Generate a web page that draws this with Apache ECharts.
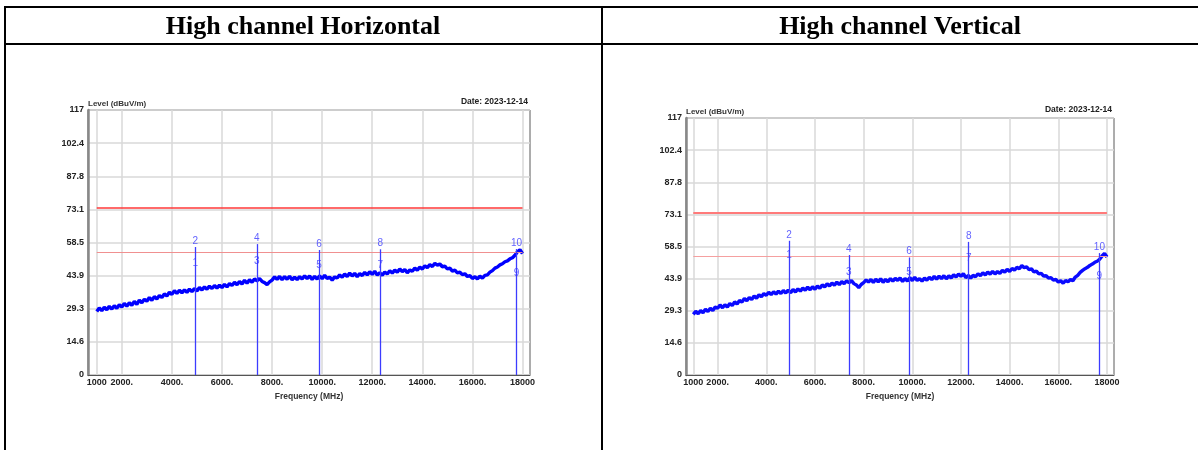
<!DOCTYPE html>
<html><head><meta charset="utf-8">
<script src="https://cdn.jsdelivr.net/npm/echarts@6/dist/echarts.min.js"></script>
<style>html,body{margin:0;padding:0;background:#fff}#c{width:1198px;height:450px}</style>
</head><body><div id="c"></div>
<script>
// ---------- data ----------
const panelTitles = ['High channel Horizontal', 'High channel Vertical'];
const dateText = 'Date: 2023-12-14';
const yAxisName = 'Level (dBuV/m)';
const xAxisName = 'Frequency (MHz)';
const freqStart = 1000;
const freqStep = 100;
const xTickValues = [1000, 2000, 4000, 6000, 8000, 10000, 12000, 14000, 16000, 18000];
const xTickLabels = ['1000', '2000.', '4000.', '6000.', '8000.', '10000.', '12000.', '14000.', '16000.', '18000'];
const yTickLabels = ['0', '14.6', '29.3', '43.9', '58.5', '73.1', '87.8', '102.4', '117'];
const limitPeak = 74;
const limitAvg = 54;

// Horizontal trace, 1000..18000 MHz every 100 MHz
const traceH = [
  28.0, 29.6, 28.4, 29.9, 28.8, 30.3, 29.1, 30.6, 29.5, 31.0,
  30.0, 31.6, 30.4, 31.9, 30.8, 32.5, 31.2, 33.1, 31.9, 33.4,
  32.6, 34.2, 33.0, 34.6, 33.6, 35.1, 34.2, 35.8, 34.9, 36.5,
  35.6, 37.2, 36.0, 37.4, 36.3, 37.6, 36.5, 37.9, 36.8, 38.2,
  37.1, 38.6, 37.5, 38.9, 37.9, 39.2, 38.2, 39.5, 38.4, 39.7,
  38.6, 40.0, 38.9, 40.4, 39.5, 40.9, 39.9, 41.3, 40.2, 41.8,
  40.5, 42.0, 41.0, 42.4, 41.6, 42.6, 41.3, 40.8, 39.9, 41.1,
  41.9, 43.3, 42.2, 43.5, 42.1, 43.4, 42.3, 43.6, 42.0, 43.2,
  42.1, 43.4, 42.4, 43.8, 42.6, 43.7, 42.2, 43.5, 42.4, 43.8,
  42.5, 44.0, 42.6, 43.2, 41.9, 43.3, 42.8, 44.2, 43.2, 44.6,
  43.5, 45.0, 43.7, 44.9, 43.4, 44.8, 43.9, 45.3, 44.2, 45.6,
  44.4, 45.8, 44.1, 45.2, 44.0, 45.5, 44.6, 46.0, 45.0, 46.3,
  45.4, 46.8, 45.6, 46.6, 45.1, 46.4, 45.8, 47.2, 46.3, 47.6,
  46.8, 48.2, 47.4, 48.7, 47.9, 49.3, 48.5, 49.0, 47.8, 48.1,
  46.8, 47.2, 45.9, 46.3, 45.1, 45.4, 44.3, 44.7, 43.5, 43.9,
  42.6, 43.4, 42.4, 43.6, 42.8, 44.0, 44.2, 45.4, 46.1, 47.2,
  47.7, 48.6, 49.1, 50.0, 50.4, 51.3, 51.8, 52.9, 54.4, 55.3,
  53.6
];
// Vertical trace, 1000..18000 MHz every 100 MHz
const traceV = [
  27.6, 29.0, 27.9, 29.3, 28.4, 29.9, 28.9, 30.4, 29.4, 30.9,
  30.4, 31.9, 30.6, 32.0, 30.9, 32.6, 31.6, 33.3, 32.3, 33.9,
  33.2, 34.8, 33.8, 35.3, 34.4, 36.0, 35.0, 36.5, 35.6, 37.1,
  36.3, 37.7, 36.6, 37.9, 36.8, 38.2, 37.1, 38.5, 37.3, 38.7,
  37.4, 38.9, 37.8, 39.2, 38.2, 39.6, 38.6, 40.0, 38.8, 40.2,
  39.0, 40.5, 39.5, 41.0, 40.1, 41.5, 40.5, 41.9, 40.9, 42.3,
  41.1, 42.5, 41.6, 42.9, 42.0, 43.0, 41.6, 41.0, 39.8, 41.2,
  42.0, 43.3, 42.3, 43.5, 42.1, 43.6, 42.4, 43.8, 42.2, 43.5,
  42.4, 43.9, 42.7, 44.0, 43.1, 44.2, 42.6, 43.9, 42.8, 44.3,
  43.0, 44.5, 43.1, 43.9, 42.7, 44.1, 43.2, 44.5, 43.4, 44.9,
  43.6, 45.0, 43.9, 45.2, 43.8, 45.1, 44.2, 45.6, 44.6, 46.0,
  44.9, 46.1, 44.3, 45.3, 44.1, 45.4, 44.7, 46.1, 45.2, 46.5,
  45.5, 46.9, 45.9, 47.2, 46.0, 47.1, 46.3, 47.6, 46.8, 48.1,
  47.1, 48.5, 47.7, 49.0, 48.4, 49.8, 48.9, 49.2, 48.0, 48.3,
  46.9, 47.3, 46.0, 46.3, 45.0, 45.2, 44.1, 44.3, 43.2, 43.5,
  42.3, 42.9, 41.8, 43.0, 42.4, 43.5, 42.9, 44.6, 45.4, 46.7,
  47.6, 48.4, 49.0, 49.9, 50.5, 51.3, 51.8, 52.7, 54.2, 55.4,
  53.7
];

const markerFreqH = [4930, 7390, 9880, 12320, 17760];
const markerPeakH = [56.5, 57.8, 55.2, 55.5, 55.6];
const markerAvgH  = [46.8, 47.7, 45.9, 45.9, 42.4];
const markerFreqV = [4930, 7390, 9870, 12320, 17690];
const markerPeakV = [61.1, 54.6, 53.5, 60.6, 55.5];
const markerAvgV  = [51.8, 44.2, 44.1, 50.5, 42.1];

// ---------- chart ----------
const chart = echarts.init(document.getElementById('c'), null, {renderer: 'canvas'});
const FONT = 'Liberation Sans, Arial, sans-serif';

const panels = [
  {trace: traceH, mf: markerFreqH, mp: markerPeakH, ma: markerAvgH,
   grid: {left: 88, top: 110, width: 442, height: 265}, xmin: 650, xmax: 18300,
   limitColor: '#ff3838', limitWidth: 1.5, avgColor: '#f09090', traceColor: '#0000ff'},
  {trace: traceV, mf: markerFreqV, mp: markerPeakV, ma: markerAvgV,
   grid: {left: 686, top: 118, width: 428, height: 257}, xmin: 700, xmax: 18290,
   limitColor: '#ff7a7a', limitWidth: 2, avgColor: '#f5a0a0', traceColor: '#0a0aff'}
];

const grids = [], xAxes = [], yAxes = [], series = [], graphics = [];

panels.forEach((p, i) => {
  grids.push(Object.assign({show: true, borderColor: '#5a5a5a', borderWidth: 1, backgroundColor: '#fff'}, p.grid));
  xAxes.push({
    type: 'value', gridIndex: i, min: p.xmin, max: p.xmax,
    name: xAxisName, nameLocation: 'middle', nameGap: 13,
    nameTextStyle: {fontFamily: FONT, fontWeight: 'bold', fontSize: 8.5, color: '#333'},
    axisLine: {show: true, lineStyle: {color: '#555', width: 1}},
    axisTick: {show: false, customValues: xTickValues},
    axisLabel: {customValues: xTickValues, margin: 3, fontFamily: FONT, fontWeight: 'bold', fontSize: 9, color: '#222',
      formatter: v => xTickLabels[xTickValues.indexOf(v)] ?? ''},
    splitLine: {show: true, lineStyle: {color: '#d9d9d9', width: 1.5}}
  });
  yAxes.push({
    type: 'value', gridIndex: i, min: 0, max: 117, interval: 14.625,
    name: yAxisName, nameLocation: 'end', nameGap: 2,
    nameTextStyle: {fontFamily: FONT, fontWeight: 'bold', fontSize: 8, color: '#333', align: 'left', verticalAlign: 'bottom', padding: [0, 0, 0, 0]},
    axisLine: {show: true, lineStyle: {color: '#888', width: 2.5}},
    axisTick: {show: false},
    axisLabel: {margin: 4, fontFamily: FONT, fontWeight: 'bold', fontSize: 9, color: '#222',
      formatter: (v) => yTickLabels[Math.round(v / 14.625)]},
    splitLine: {show: true, lineStyle: {color: '#d9d9d9', width: 1.5}}
  });

  // limit lines
  series.push({
    type: 'line', xAxisIndex: i, yAxisIndex: i, data: [], silent: true,
    markLine: {symbol: 'none', silent: true, label: {show: false}, animation: false,
      data: [
        [{coord: [1000, limitPeak], lineStyle: {color: p.limitColor, width: p.limitWidth, type: 'solid'}}, {coord: [18000, limitPeak]}],
        [{coord: [1000, limitAvg], lineStyle: {color: p.avgColor, width: 1, type: 'solid'}}, {coord: [18000, limitAvg]}]
      ]}
  });

  // marker vertical lines
  const mlData = [];
  p.mf.forEach((f, k) => {
    mlData.push([{coord: [f, 0]}, {coord: [f, p.mp[k]]}]);
  });
  series.push({
    type: 'line', xAxisIndex: i, yAxisIndex: i, data: [], silent: true,
    markLine: {symbol: 'none', silent: true, label: {show: false}, animation: false,
      lineStyle: {color: '#3c3cff', width: 1.3, type: 'solid'}, data: mlData}
  });

  // trace
  series.push({
    type: 'line', xAxisIndex: i, yAxisIndex: i, showSymbol: false, animation: false,
    lineStyle: {color: p.traceColor, width: 3.4, join: 'bevel'}, z: 3,
    data: p.trace.map((v, k) => [freqStart + k * freqStep, v])
  });

  // marker labels
  const lbl = [];
  p.mf.forEach((f, k) => {
    lbl.push({value: [f, p.ma[k]], name: String(2 * k + 1)});
    lbl.push({value: [f, p.mp[k]], name: String(2 * k + 2)});
  });
  series.push({
    type: 'scatter', xAxisIndex: i, yAxisIndex: i, symbolSize: 0, animation: false, z: 5,
    data: lbl,
    label: {show: true, position: 'top', distance: 1, formatter: d => d.name,
      fontFamily: FONT, fontSize: 10, color: '#3a3aff'}
  });

  // date text
  graphics.push({type: 'text',
    x: p.grid.left + p.grid.width - 2, y: p.grid.top - 4,
    style: {text: dateText, font: 'bold 8.5px ' + FONT, fill: '#222', align: 'right', verticalAlign: 'bottom'}});
});

// table borders and headers
const lineStyle = {stroke: '#000', lineWidth: 2};
graphics.push(
  {type: 'line', shape: {x1: 4, y1: 7, x2: 1198, y2: 7}, style: lineStyle},
  {type: 'line', shape: {x1: 4, y1: 44, x2: 1198, y2: 44}, style: lineStyle},
  {type: 'line', shape: {x1: 5, y1: 6, x2: 5, y2: 450}, style: lineStyle},
  {type: 'line', shape: {x1: 602, y1: 6, x2: 602, y2: 450}, style: lineStyle},
  {type: 'text', x: 303, y: 27, style: {text: panelTitles[0], font: 'bold 26px "Liberation Serif", "Times New Roman", serif', fill: '#000', align: 'center', verticalAlign: 'middle'}},
  {type: 'text', x: 900, y: 27, style: {text: panelTitles[1], font: 'bold 26px "Liberation Serif", "Times New Roman", serif', fill: '#000', align: 'center', verticalAlign: 'middle'}}
);

chart.setOption({
  animation: false,
  backgroundColor: '#fff',
  grid: grids, xAxis: xAxes, yAxis: yAxes, series: series, graphic: graphics
});
</script>
</body></html>
